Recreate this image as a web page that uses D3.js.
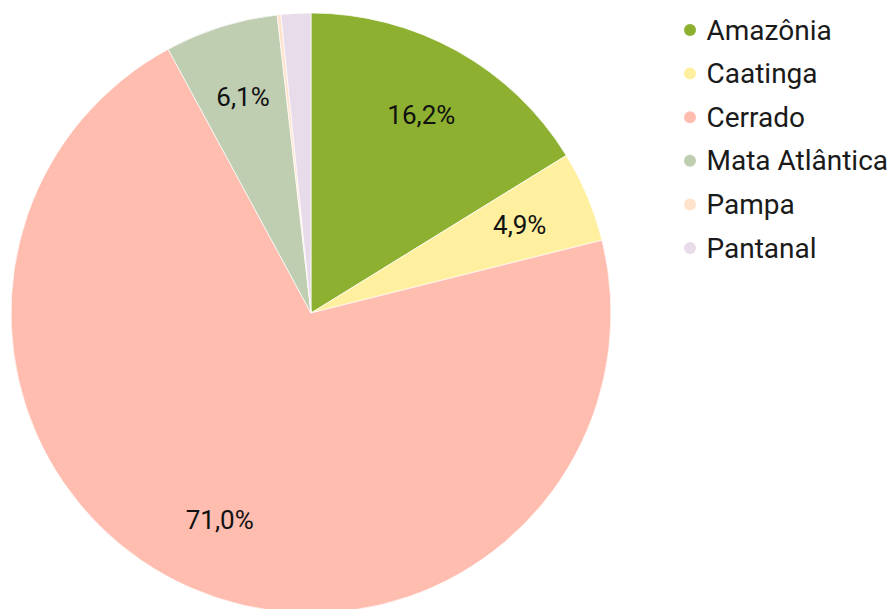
<!DOCTYPE html>
<html><head><meta charset="utf-8">
<script src="https://cdn.jsdelivr.net/npm/d3@7"></script>
<style>body{margin:0;background:#fff}svg{display:block}</style>
</head><body>
<svg id="c" width="890" height="609"></svg>
<script>
const categories = ["Amazônia","Caatinga","Cerrado","Mata Atlântica","Pampa","Pantanal"];
const values = [16.2, 4.9, 71.0, 6.1, 0.2, 1.6];
const colors = ["#8db030","#fff09f","#ffbdb0","#bfcdb1","#ffe2cb","#e8dbea"];

const svg = d3.select("#c");
const cx = 311, cy = 313, R = 300;
const color = d3.scaleOrdinal().domain(categories).range(colors);
const data = categories.map((c,i)=>({cat:c, v:values[i]}));
const pie = d3.pie().sort(null).value(d=>d.v);
const arcs = pie(data);
const arc = d3.arc().innerRadius(0).outerRadius(R);
const labelArc = d3.arc().innerRadius(R*0.755).outerRadius(R*0.755);
const fmt = v => v.toFixed(1).replace(".", ",") + "%";

const g = svg.append("g").attr("transform",`translate(${cx},${cy})`);
g.selectAll("path").data(arcs).join("path")
  .attr("d", arc).attr("fill", d=>color(d.data.cat))
  .attr("stroke","#fff").attr("stroke-width",0.7);
g.selectAll("text").data(arcs.filter(d=>d.data.v>=3)).join("text")
  .attr("transform", d=>`translate(${labelArc.centroid(d)})`)
  .attr("text-anchor","middle").attr("dominant-baseline","central")
  .attr("font-family","Roboto").attr("font-size",26).attr("fill","#111")
  .text(d=>fmt(d.data.v));

const lg = svg.append("g").attr("transform","translate(690,30)");
const rows = lg.selectAll("g").data(categories).join("g")
  .attr("transform",(d,i)=>`translate(0,${i*43.6})`);
rows.append("circle").attr("r",6).attr("fill",d=>color(d));
rows.append("text").attr("x",16.5).attr("dominant-baseline","central")
  .attr("font-family","Roboto").attr("font-size",28).attr("fill","#1a1a1a")
  .text(d=>d);
</script>
</body></html>
